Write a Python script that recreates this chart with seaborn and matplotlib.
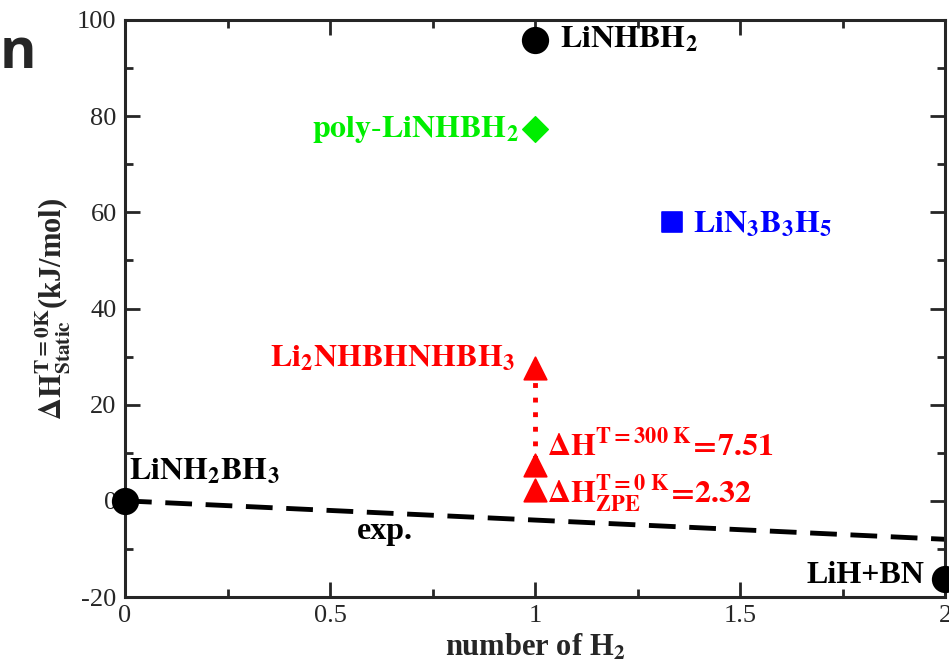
import matplotlib
matplotlib.use('Agg')
import matplotlib.pyplot as plt
import seaborn as sns
import pandas as pd
from matplotlib.ticker import MultipleLocator

# data
start_x, start_y = [0], [0]                 # LiNH2BH3
lihbn_x, lihbn_y = [2], [-16.3]             # LiH+BN
linhbh2_x, linhbh2_y = [1], [95.8]          # LiNHBH2
poly_x, poly_y = [1], [77.3]                # poly-LiNHBH2
b3_x, b3_y = [4 / 3], [57.9]                # LiN3B3H5
tri_x = [1, 1, 1]
tri_y = [27.6, 7.51, 2.32]                  # Li2NHBHNHBH3 static, 300 K, ZPE
exp_x = [0, 2]
exp_y = [0, -8]

sns.set_style('ticks')
plt.rcParams['font.family'] = ['Liberation Serif', 'DejaVu Serif']
plt.rcParams['mathtext.fontset'] = 'stix'
plt.rcParams['axes.unicode_minus'] = False

fig = plt.figure(figsize=(9.49, 6.68), dpi=100)
ax = fig.add_axes([125 / 949, 71 / 668, 820 / 949, 577 / 668])

# experimental line and dotted connector
sns.lineplot(x=exp_x, y=exp_y, ax=ax, color='black', lw=3.5, linestyle=(0, (5.5, 2.8)))
sns.lineplot(x=tri_x[:2], y=tri_y[:2], ax=ax, color='red', lw=3.5, linestyle=(0, (1, 2)),
             estimator=None, sort=False, errorbar=None)

sns.scatterplot(x=start_x + lihbn_x + linhbh2_x, y=start_y + lihbn_y + linhbh2_y, ax=ax,
                color='black', marker='o', s=330, edgecolor='black', clip_on=False, zorder=5)
sns.scatterplot(x=poly_x, y=poly_y, ax=ax, color='#00ee00', marker='D', s=170,
                edgecolor='#00ee00', clip_on=False, zorder=5)
sns.scatterplot(x=b3_x, y=b3_y, ax=ax, color='#0000ff', marker='s', s=220,
                edgecolor='#0000ff', clip_on=False, zorder=5)
sns.scatterplot(x=tri_x, y=tri_y, ax=ax, color='red', marker='^', s=260,
                edgecolor='red', clip_on=False, zorder=5)

ax.set_xlim(0, 2)
ax.set_ylim(-20, 100)
ax.xaxis.set_major_locator(MultipleLocator(0.5))
ax.xaxis.set_minor_locator(MultipleLocator(0.25))
ax.yaxis.set_major_locator(MultipleLocator(20))
ax.yaxis.set_minor_locator(MultipleLocator(10))
ax.set_xticks([0, 0.5, 1, 1.5, 2], ['0', '0.5', '1', '1.5', '2'])
ax.tick_params(which='both', direction='in', top=True, right=True, width=2)
ax.tick_params(which='major', length=11, labelsize=19, pad=6)
ax.tick_params(which='minor', length=6)
for s in ax.spines.values():
    s.set_linewidth(2.2)

ax.set_xlabel(r'number of H$_\mathbf{2}$', fontsize=22, fontweight='bold', labelpad=4)
ax.set_ylabel(r'$\mathbf{\Delta H^{T=0K}_{Static}}$(kJ/mol)', fontsize=22, fontweight='bold', labelpad=4)

tk = dict(fontsize=23, fontweight='bold')
ax.text(1.06, 95.8, r'$\mathbf{LiNHBH_2}$', color='black', ha='left', va='center', **tk)
ax.text(0.96, 77.3, r'$\mathbf{poly\text{-}LiNHBH_2}$', color='#00ee00', ha='right', va='center', **tk)
ax.text(1.385, 57.5, r'$\mathbf{LiN_3B_3H_5}$', color='#0000ff', ha='left', va='center', **tk)
ax.text(0.95, 29.5, r'$\mathbf{Li_2NHBHNHBH_3}$', color='red', ha='right', va='center', **tk)
ax.text(1.03, 8.0, r'$\mathbf{\Delta H^{T=300\ K}\!=\!7.51}$', color='red', ha='left', va='bottom', **tk)
ax.text(1.03, 1.5, r'$\mathbf{\Delta H^{T=0\ K}_{ZPE}\!=\!2.32}$', color='red', ha='left', va='center', **tk)
ax.text(0.01, 3.0, r'$\mathbf{LiNH_2BH_3}$', color='black', ha='left', va='bottom', **tk)
ax.text(0.635, -6.3, 'exp.', color='black', ha='center', va='center', **tk)
ax.text(1.95, -15.6, 'LiH+BN', color='black', ha='right', va='center', **tk)

fig.text(0.0, 0.898, 'n', fontsize=40, fontweight='bold', family=['Open Sans', 'DejaVu Sans'],
         ha='left', va='baseline')

fig.savefig('out.png', dpi=100)
